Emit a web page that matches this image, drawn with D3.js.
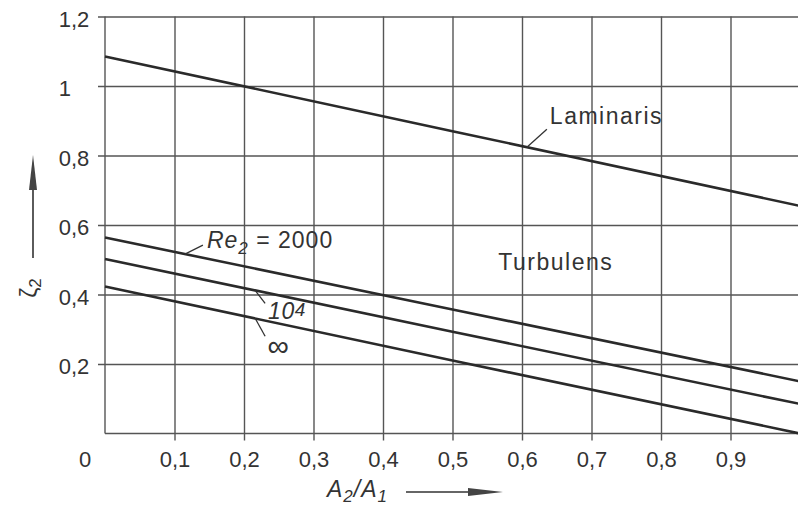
<!DOCTYPE html>
<html>
<head>
<meta charset="utf-8">
<script src="https://cdn.jsdelivr.net/npm/d3@7"></script>
<style>
  body { margin: 0; background: #fff; }
  svg { display: block; }
  text { font-family: "Liberation Sans", Arial, sans-serif; fill: #333; }
</style>
</head>
<body>
<div id="chart"></div>
<script>
// values
const xTicks = [0.1, 0.2, 0.3, 0.4, 0.5, 0.6, 0.7, 0.8, 0.9]
const yTicks = [0.2, 0.4, 0.6, 0.8, 1.0, 1.2]
const xVals = [0, 0.5, 1]
const laminaris = [1.085, 0.87, 0.655]
const re2000 = [0.564, 0.357, 0.15]
const re1e4 = [0.502, 0.293, 0.085]
const reInf = [0.423, 0.21, 0.0]

const W = 798, H = 508
const margin = { top: 16.5, left: 105 }
const width = 695
const height = 417

const FONT = '"Liberation Sans", Arial, sans-serif'

const $svg = d3.select('#chart').append('svg')
  .attr('width', W)
  .attr('height', H)

const x = d3.scaleLinear().domain([0, 1]).range([margin.left, margin.left + width])
const y = d3.scaleLinear().domain([0, 1.2]).range([margin.top + height, margin.top])

const comma = d => d3.format('.1f')(d).replace('.', ',')
const gridColor = '#555'

/* grid: horizontal lines (stick out 7px to the left) */
const $yAxis = $svg.append('g')
  .attr('transform', `translate(${margin.left},0)`)
  .call(d3.axisLeft(y).tickValues(yTicks).tickSize(-width).tickSizeOuter(0).tickFormat(''))
$yAxis.select('.domain').remove()
$yAxis.selectAll('.tick text').remove()
$yAxis.selectAll('.tick line')
  .attr('x1', -7)
  .attr('stroke', gridColor)
  .attr('stroke-width', 1.4)

// labels aligned on the decimal comma
$yAxis.selectAll('.tick').each(function(d) {
  const parts = comma(d).split(',')
  const $t = d3.select(this)
  const isOne = Math.abs(d - 1) < 1e-9
  $t.append('text')
    .attr('x', -34).attr('y', 9.5)
    .attr('text-anchor', 'end')
    .attr('font-family', FONT)
    .attr('font-size', 22)
    .attr('fill', '#333')
    .text(parts[0])
  if (!isOne) {
    $t.append('text')
      .attr('x', -34).attr('y', 9.5)
      .attr('text-anchor', 'start')
      .attr('font-family', FONT)
      .attr('font-size', 22)
      .attr('fill', '#333')
      .text(',' + parts[1])
  }
})

/* grid: vertical lines (stick out 7px below) */
const $xAxis = $svg.append('g')
  .attr('transform', `translate(0,${margin.top + height})`)
  .call(d3.axisBottom(x).tickValues(xTicks).tickSize(-height).tickSizeOuter(0).tickFormat(comma))
$xAxis.select('.domain').remove()
$xAxis.selectAll('.tick line')
  .attr('y1', 7)
  .attr('stroke', gridColor)
  .attr('stroke-width', 1.4)
$xAxis.selectAll('.tick text')
  .attr('y', 33)
  .attr('dy', 0)
  .attr('font-size', 22)
  .attr('font-family', FONT)
  .attr('fill', '#333')

// frame: left and bottom border
$svg.append('line')
  .attr('x1', x(0)).attr('x2', x(0))
  .attr('y1', y(1.2)).attr('y2', y(0))
  .attr('stroke', gridColor).attr('stroke-width', 1.4)
$svg.append('line')
  .attr('x1', x(0)).attr('x2', x(1))
  .attr('y1', y(0)).attr('y2', y(0))
  .attr('stroke', gridColor).attr('stroke-width', 1.4)

// shared origin label
$svg.append('text')
  .attr('x', 85).attr('y', y(0) + 33)
  .attr('text-anchor', 'middle')
  .attr('font-size', 22)
  .text('0')

/* curves */
const line = d3.line()
  .x((d, i) => x(xVals[i]))
  .y(d => y(d))

;[laminaris, re2000, re1e4, reInf].forEach(series => {
  $svg.append('path')
    .attr('d', line(series))
    .attr('fill', 'none')
    .attr('stroke', '#2a2a2a')
    .attr('stroke-width', 2.6)
})

/* annotations */
const onLine = (series, xv) => [x(xv), y(series[0] + (series[2] - series[0]) * xv)]
const leader = (p, dx, dy) => $svg.append('line')
  .attr('x1', p[0]).attr('y1', p[1])
  .attr('x2', p[0] + dx).attr('y2', p[1] + dy)
  .attr('stroke', '#333').attr('stroke-width', 1.3)

const pLam = onLine(laminaris, 0.607)
leader(pLam, 20, -18)
$svg.append('text')
  .attr('x', pLam[0] + 23).attr('y', pLam[1] - 23)
  .attr('font-size', 23)
  .attr('letter-spacing', 1.5)
  .text('Laminaris')

$svg.append('text')
  .attr('x', x(0.566)).attr('y', 270)
  .attr('font-size', 23)
  .attr('letter-spacing', 1.5)
  .text('Turbulens')

const p2000 = onLine(re2000, 0.115)
leader(p2000, 18, -9)
const $re = $svg.append('text')
  .attr('x', p2000[0] + 22).attr('y', p2000[1] - 6)
  .attr('font-size', 23)
  .attr('letter-spacing', 1)
$re.append('tspan').attr('font-style', 'italic').text('Re')
$re.append('tspan').attr('font-size', 17).attr('dy', 6).attr('font-style', 'italic').text('2')
$re.append('tspan').attr('dy', -6).text(' = 2000')

const p1e4 = onLine(re1e4, 0.216)
leader(p1e4, 10, 13)
const $e4 = $svg.append('text')
  .attr('x', p1e4[0] + 13).attr('y', p1e4[1] + 29)
  .attr('font-size', 23)
  .attr('font-style', 'italic')
  .attr('letter-spacing', 0.5)
$e4.append('tspan').text('10')
$e4.append('tspan').attr('font-size', 19).attr('dy', -3).text('4')

const pInf = onLine(reInf, 0.216)
leader(pInf, 10, 18)
$svg.append('text')
  .attr('x', pInf[0] + 23).attr('y', pInf[1] + 38)
  .attr('text-anchor', 'middle')
  .attr('font-size', 30)
  .text('∞')

/* axis titles with arrows */
const $xt = $svg.append('text')
  .attr('x', 327).attr('y', 497)
  .attr('font-size', 23)
  .attr('font-style', 'italic')
  .attr('letter-spacing', 1)
$xt.append('tspan').text('A')
$xt.append('tspan').attr('font-size', 17).attr('dy', 5).text('2')
$xt.append('tspan').attr('dy', -5).text('/A')
$xt.append('tspan').attr('font-size', 17).attr('dy', 5).text('1')

$svg.append('line')
  .attr('x1', 406).attr('x2', 472)
  .attr('y1', 492).attr('y2', 492)
  .attr('stroke', '#333').attr('stroke-width', 1.6)
$svg.append('path')
  .attr('d', 'M468,488 L503,492 L468,496 Z')
  .attr('fill', '#444')

const $yt = $svg.append('text')
  .attr('transform', 'translate(37,288) rotate(-90)')
  .attr('text-anchor', 'middle')
  .attr('font-size', 23)
$yt.append('tspan').text('ζ')
$yt.append('tspan').attr('font-size', 17).attr('dy', 4).text('2')

$svg.append('line')
  .attr('x1', 33).attr('x2', 33)
  .attr('y1', 258).attr('y2', 186)
  .attr('stroke', '#333').attr('stroke-width', 1.6)
$svg.append('path')
  .attr('d', 'M29,190 L33,155 L37,190 Z')
  .attr('fill', '#444')
</script>
</body>
</html>
